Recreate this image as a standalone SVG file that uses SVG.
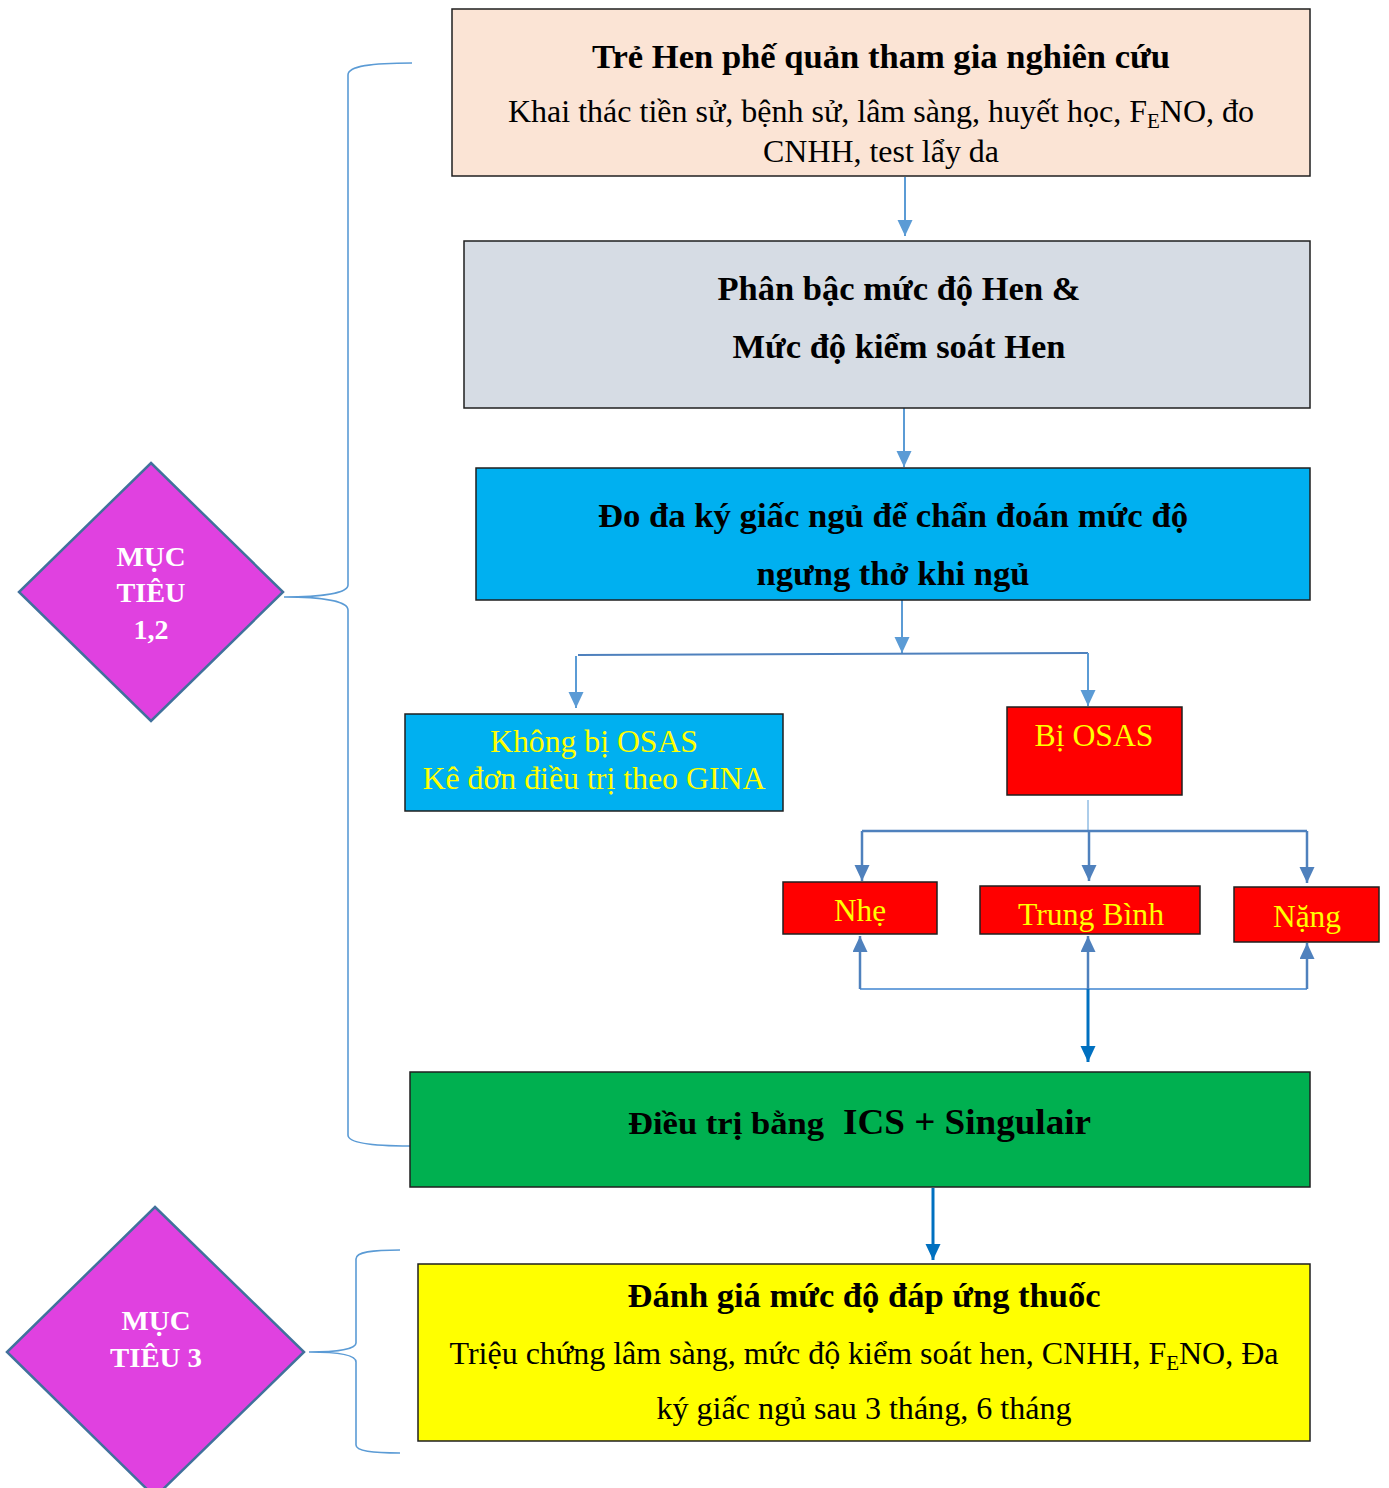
<svg xmlns="http://www.w3.org/2000/svg" width="1389" height="1488" viewBox="0 0 1389 1488">
<defs>
<style>
.box{stroke:#1f1f1f;stroke-width:1.5}
.t{font-family:"Liberation Serif","Times New Roman",serif;text-anchor:middle}
.b{font-weight:bold;fill:#000}
.r{fill:#000}
.y{fill:#FFFF00}
.w{fill:#FFFFFF;font-weight:bold}
.ln{fill:none;stroke:#5B9BD5;stroke-width:2}
.ln2{fill:none;stroke:#4F81BD;stroke-width:2.5}
.ln3{fill:none;stroke:#0070C0;stroke-width:3}
.brace{fill:none;stroke:#5B9BD5;stroke-width:1.6}
.dia{fill:#E041E0;stroke:#41719C;stroke-width:2.5}
</style>
<marker id="ma" markerUnits="userSpaceOnUse" markerWidth="18" markerHeight="18" refX="16" refY="7.5" orient="auto"><path d="M0,0 L16,7.5 L0,15 z" fill="#5B9BD5"/></marker>
<marker id="mb" markerUnits="userSpaceOnUse" markerWidth="18" markerHeight="18" refX="16" refY="7.5" orient="auto"><path d="M0,0 L16,7.5 L0,15 z" fill="#4F81BD"/></marker>
<marker id="mc" markerUnits="userSpaceOnUse" markerWidth="18" markerHeight="18" refX="16" refY="7.5" orient="auto"><path d="M0,0 L16,7.5 L0,15 z" fill="#0070C0"/></marker>
</defs>
<rect width="1389" height="1488" fill="#fff"/>

<g id="connectors">
<path class="brace" d="M412,63 C372,63 348,66 348,75 L348,585 C348,593 322,597 284,597 C322,597 348,601 348,610 L348,1135 C348,1143 372,1146 410,1146"/>
<path class="brace" d="M400,1250 C372,1250 356,1252 356,1259 L356,1343 C356,1349 338,1352 309,1352 C338,1352 356,1355 356,1362 L356,1445 C356,1451 372,1453 400,1453"/>
<line class="ln" x1="905" y1="177" x2="905" y2="236" marker-end="url(#ma)"/>
<line class="ln" x1="904" y1="408" x2="904" y2="467" marker-end="url(#ma)"/>
<line class="ln" x1="902" y1="600" x2="902" y2="653" marker-end="url(#ma)"/>
<line class="ln" x1="578" y1="655" x2="1088" y2="653" style="stroke:#4F81BD"/>
<line class="ln" x1="576" y1="656" x2="576" y2="708" marker-end="url(#ma)"/>
<line class="ln" x1="1088" y1="653" x2="1088" y2="706" marker-end="url(#ma)"/>
<line x1="1088" y1="800" x2="1088" y2="831" stroke="#5B9BD5" stroke-width="1"/>
<line class="ln2" x1="862" y1="831" x2="1307" y2="831"/>
<line class="ln2" x1="862" y1="831" x2="862" y2="881" marker-end="url(#mb)"/>
<line class="ln2" x1="1089" y1="831" x2="1089" y2="881" marker-end="url(#mb)"/>
<line class="ln2" x1="1307" y1="831" x2="1307" y2="883" marker-end="url(#mb)"/>
<line class="ln" x1="860" y1="989" x2="1307" y2="989" style="stroke:#6FA3DC"/>
<line class="ln2" x1="860" y1="989" x2="860" y2="936" marker-end="url(#mb)"/>
<line class="ln2" x1="1307" y1="989" x2="1307" y2="943" marker-end="url(#mb)"/>
<line class="ln2" x1="1088" y1="989" x2="1088" y2="936" marker-end="url(#mb)"/>
<line class="ln3" x1="1088" y1="989" x2="1088" y2="1062" marker-end="url(#mc)"/>
<line class="ln3" x1="933" y1="1188" x2="933" y2="1260" marker-end="url(#mc)"/>
</g>

<g id="node-tre-hen">
<rect class="box" x="452" y="9" width="858" height="167" fill="#FBE4D5"/>
<text class="t b" x="881" y="68" font-size="34" textLength="578" lengthAdjust="spacingAndGlyphs">Trẻ Hen phế quản tham gia nghiên cứu</text>
<text class="t r" x="881" y="122" font-size="32" textLength="746" lengthAdjust="spacingAndGlyphs">Khai thác tiền sử, bệnh sử, lâm sàng, huyết học, F<tspan font-size="21" dy="6">E</tspan><tspan dy="-6">NO, đo</tspan></text>
<text class="t r" x="881" y="162" font-size="32" textLength="236" lengthAdjust="spacingAndGlyphs">CNHH, test lẩy da</text>
</g>

<g id="node-phan-bac">
<rect class="box" x="464" y="241" width="846" height="167" fill="#D6DCE4"/>
<text class="t b" x="899" y="300" font-size="34" textLength="363" lengthAdjust="spacingAndGlyphs">Phân bậc mức độ Hen &amp;</text>
<text class="t b" x="899" y="358" font-size="34" textLength="333" lengthAdjust="spacingAndGlyphs">Mức độ kiểm soát Hen</text>
</g>

<g id="node-do-da-ky">
<rect class="box" x="476" y="468" width="834" height="132" fill="#00B0F0"/>
<text class="t b" x="893" y="527" font-size="34" textLength="590" lengthAdjust="spacingAndGlyphs">Đo đa ký giấc ngủ để chẩn đoán mức độ</text>
<text class="t b" x="893" y="585" font-size="34" textLength="273" lengthAdjust="spacingAndGlyphs">ngưng thở khi ngủ</text>
</g>

<g id="node-khong-osas">
<rect class="box" x="405" y="714" width="378" height="97" fill="#00B0F0"/>
<text class="t y" x="594" y="752" font-size="31" textLength="208" lengthAdjust="spacingAndGlyphs">Không bị OSAS</text>
<text class="t y" x="594" y="789" font-size="31" textLength="343" lengthAdjust="spacingAndGlyphs">Kê đơn điều trị theo GINA</text>
</g>

<g id="node-bi-osas">
<rect class="box" x="1007" y="707" width="175" height="88" fill="#FF0000"/>
<text class="t y" x="1094" y="746" font-size="31" textLength="119" lengthAdjust="spacingAndGlyphs">Bị OSAS</text>
</g>

<g id="node-nhe">
<rect class="box" x="783" y="882" width="154" height="52" fill="#FF0000"/>
<text class="t y" x="860" y="921" font-size="31" textLength="52" lengthAdjust="spacingAndGlyphs">Nhẹ</text>
</g>

<g id="node-trung-binh">
<rect class="box" x="980" y="886" width="220" height="48" fill="#FF0000"/>
<text class="t y" x="1091" y="925" font-size="31" textLength="146" lengthAdjust="spacingAndGlyphs">Trung Bình</text>
</g>

<g id="node-nang">
<rect class="box" x="1234" y="887" width="145" height="55" fill="#FF0000"/>
<text class="t y" x="1307" y="927" font-size="31" textLength="68" lengthAdjust="spacingAndGlyphs">Nặng</text>
</g>

<g id="node-dieu-tri">
<rect class="box" x="410" y="1072" width="900" height="115" fill="#00B050"/>
<text class="t b" x="726" y="1134" font-size="32" textLength="196" lengthAdjust="spacingAndGlyphs">Điều trị bằng</text>
<text class="t b" x="967" y="1134" font-size="36" textLength="248" lengthAdjust="spacingAndGlyphs">ICS + Singulair</text>
</g>

<g id="node-danh-gia">
<rect class="box" x="418" y="1264" width="892" height="177" fill="#FFFF00"/>
<text class="t b" x="864" y="1307" font-size="33" textLength="473" lengthAdjust="spacingAndGlyphs">Đánh giá mức độ đáp ứng thuốc</text>
<text class="t r" x="864" y="1364" font-size="32" textLength="829" lengthAdjust="spacingAndGlyphs">Triệu chứng lâm sàng, mức độ kiểm soát hen, CNHH, F<tspan font-size="21" dy="6">E</tspan><tspan dy="-6">NO, Đa</tspan></text>
<text class="t r" x="864" y="1419" font-size="32" textLength="415" lengthAdjust="spacingAndGlyphs">ký giấc ngủ sau 3 tháng, 6 tháng</text>
</g>

<g id="node-muc-tieu-12">
<polygon class="dia" points="151,463 283,592 151,721 19,592"/>
<text class="t w" x="151" y="566" font-size="28" textLength="69" lengthAdjust="spacingAndGlyphs">MỤC</text>
<text class="t w" x="151" y="602" font-size="28" textLength="69" lengthAdjust="spacingAndGlyphs">TIÊU</text>
<text class="t w" x="151" y="639" font-size="28">1,2</text>
</g>

<g id="node-muc-tieu-3">
<polygon class="dia" points="155,1207 304,1352 155,1497 7,1352"/>
<text class="t w" x="156" y="1330" font-size="28" textLength="69" lengthAdjust="spacingAndGlyphs">MỤC</text>
<text class="t w" x="156" y="1367" font-size="28" textLength="92" lengthAdjust="spacingAndGlyphs">TIÊU 3</text>
</g>
</svg>
